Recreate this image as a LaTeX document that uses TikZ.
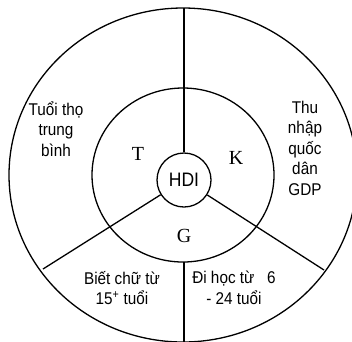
\documentclass[tikz,border=0pt]{standalone}
\usepackage{fontspec}
\setmainfont{Liberation Sans}
\newfontfamily\narrow[FakeStretch=0.9]{Liberation Sans}
\newfontfamily\serifT{Liberation Serif}
\begin{document}
\begin{tikzpicture}[x=1pt,y=-1pt, line width=1.3pt,
  lbl/.style={align=center, font=\narrow\fontsize{17}{20.5}\selectfont, inner sep=0pt},
  letter/.style={font=\serifT\fontsize{20}{20}\selectfont, inner sep=0pt}]
\useasboundingbox (0,0) rectangle (352,341);
\begin{scope}
  \clip (0,0) rectangle (352,341);
  \draw (183,175) ellipse [x radius=174, y radius=167];
\end{scope}
\draw (183,175) ellipse [x radius=91, y radius=87];
\node[circle, draw, minimum size=54pt, inner sep=0pt, font=\narrow\fontsize{19.5}{19.5}\selectfont] (hdi) at (184,180) {HDI};
\coordinate (top) at (184,8);
\coordinate (ll) at (43,269);
\coordinate (lr) at (324,270);
\coordinate (ib) at (184,262);
\coordinate (ob) at (184,342);
\draw (top) -- (hdi.north);
\draw (hdi) -- (ll);
\draw (hdi) -- (lr);
\draw (ib) -- (ob);
\node[lbl] (life) at (56,129) {Tuổi thọ\\trung\\bình};
\node[lbl] (gdp) at (305,148) {Thu\\nhập\\quốc\\dân\\GDP};
\node[lbl] (lit) at (122,288) {Biết chữ từ\\15\textsuperscript{+} tuổi};
\node[lbl] (edu) at (234,288) {Đi học từ~~~6\\- 24 tuổi};
\node[letter] (T) at (138,154) {T};
\node[letter] (K) at (236,158) {K};
\node[letter] (G) at (184,236) {G};
\end{tikzpicture}
\end{document}
